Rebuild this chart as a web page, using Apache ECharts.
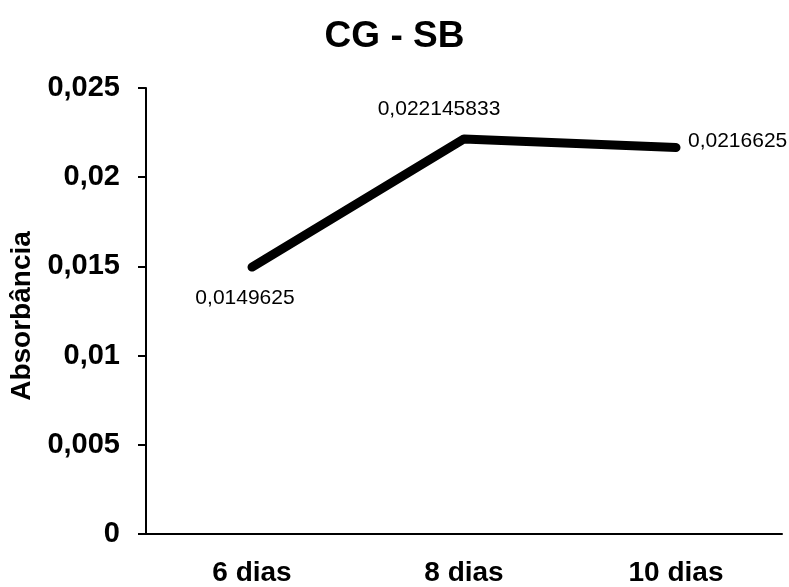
<!DOCTYPE html>
<html>
<head>
<meta charset="utf-8">
<script src="https://cdn.jsdelivr.net/npm/echarts@6/dist/echarts.min.js"></script>
<style>
html,body{margin:0;padding:0;background:#fff;}
#chart{width:789px;height:587px;}
</style>
</head>
<body>
<div id="chart"></div>
<script>
var categories = ['6 dias', '8 dias', '10 dias'];
var values = [0.0149625, 0.022145833, 0.0216625];
var yMin = 0, yMax = 0.025, yInterval = 0.005;

var labelOffsets = [[-7, 31], [-25, -30], [12, -6]];
var labelAligns = ['center', 'center', 'left'];

function comma(v) { return String(v).replace('.', ','); }

var chart = echarts.init(document.getElementById('chart'), null, {renderer: 'canvas'});
var font = '"Liberation Sans", Arial, sans-serif';
chart.setOption({
  animation: false,
  backgroundColor: '#fff',
  title: {
    text: 'CG - SB',
    left: 'center',
    top: 18,
    padding: 0,
    textStyle: {fontFamily: font, fontSize: 37, fontWeight: 'bold', color: '#000'}
  },
  grid: {left: 143, right: 7, top: 88, bottom: 47},
  xAxis: {
    type: 'category',
    data: categories,
    boundaryGap: true,
    axisLine: {lineStyle: {color: '#000', width: 2}},
    axisTick: {show: false},
    axisLabel: {fontFamily: font, fontSize: 28, fontWeight: 'bold', color: '#000', margin: 25}
  },
  yAxis: {
    type: 'value',
    min: yMin, max: yMax, interval: yInterval,
    name: 'Absorbância',
    nameLocation: 'middle',
    nameGap: 110,
    nameTextStyle: {fontFamily: font, fontSize: 28, fontWeight: 'bold', color: '#000', padding: [0, 10, 0, 0]},
    splitLine: {show: false},
    axisLine: {show: true, lineStyle: {color: '#000', width: 2}},
    axisTick: {show: true, inside: false, length: 8, lineStyle: {color: '#000', width: 2}},
    axisLabel: {
      fontFamily: font, fontSize: 29, fontWeight: 'bold', color: '#000', margin: 26,
      formatter: function (v) { return comma(+v.toFixed(4)); }
    }
  },
  series: [{
    type: 'line',
    data: values.map(function (v, i) {
      return {
        value: v,
        label: {
          show: true,
          position: 'inside',
          offset: labelOffsets[i],
          align: labelAligns[i],
          verticalAlign: 'middle'
        }
      };
    }),
    symbol: 'circle',
    symbolSize: 2,
    showSymbol: true,
    itemStyle: {color: '#000'},
    lineStyle: {color: '#000', width: 9, cap: 'round', join: 'round'},
    label: {
      show: true,
      fontFamily: font, fontSize: 21, color: '#000',
      formatter: function (p) { return comma(p.value); }
    }
  }]
});
</script>
</body>
</html>
